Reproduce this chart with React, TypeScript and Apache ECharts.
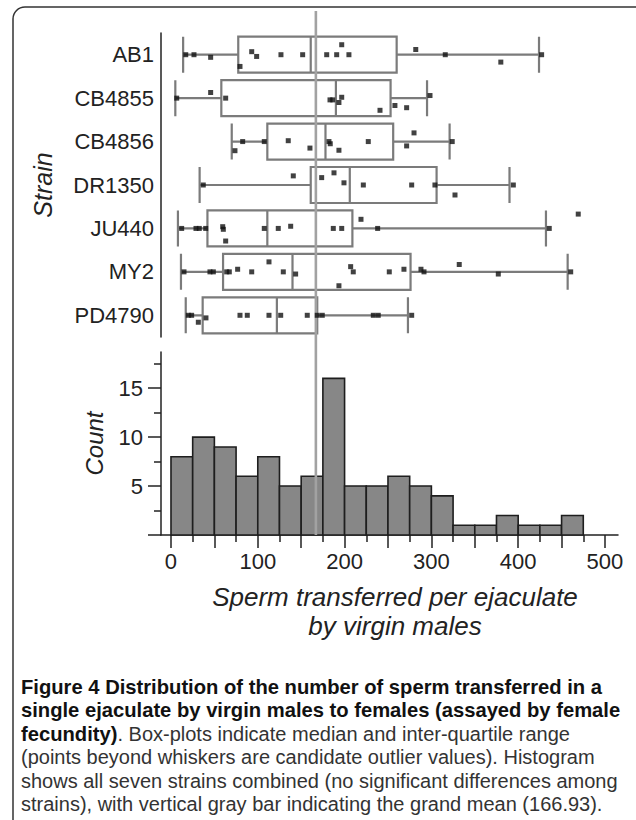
import React, { useEffect, useRef } from 'react';
import * as echarts from 'echarts';

// ---------- DATA ----------
const strains = ['AB1', 'CB4855', 'CB4856', 'DR1350', 'JU440', 'MY2', 'PD4790'];

// [lower whisker, Q1, median, Q3, upper whisker]
const ab1Box = [14, 77.5, 161, 260, 424];
const cb4855Box = [5, 58, 190, 253, 295];
const cb4856Box = [70, 111, 178, 256, 321];
const dr1350Box = [33, 161, 206, 306, 390];
const ju440Box = [8, 42, 111, 209, 432];
const my2Box = [11.5, 60, 140, 276, 457];
const pd4790Box = [17, 36.5, 122, 168.5, 273];

// individual observations: [sperm count, vertical jitter (fraction of a row)]
const ab1Points = [[17, 0], [26.5, 0], [45.7, 0.06], [79.5, 0.27], [93, -0.07], [98.7, 0.04], [126.7, 0], [151.7, 0], [179.4, 0], [190.9, 0], [196.7, -0.23], [205, 0], [282, -0.12], [316, 0], [380, 0.17], [427, 0]];
const cb4855Points = [[6.6, 0], [45.7, -0.13], [63, 0], [183.2, 0.04], [186.3, 0.04], [193.5, 0.1], [196.7, -0.02], [240.8, 0.28], [258, 0.17], [271.5, 0.22], [298.4, -0.06]];
const cb4856Points = [[73.7, 0.21], [82.6, 0], [107.5, 0], [135.1, -0.02], [160.1, 0.15], [182, 0], [183.5, 0.05], [193.5, 0.2], [227.3, 0], [271.5, 0.1], [280, -0.2], [324, 0]];
const dr1350Points = [[37.2, 0], [140.9, -0.21], [173.6, -0.17], [187.8, -0.28], [199.3, -0.05], [221.6, 0], [277.3, 0], [304.1, 0], [327.2, 0.23], [394.4, 0]];
const ju440Points = [[12.3, 0], [28.8, 0], [32.6, 0], [40, 0], [59.6, -0.04], [60.3, 0.02], [63, 0.29], [107.5, 0], [123.6, 0], [137.9, -0.05], [187, 0], [196.7, 0], [218.9, -0.21], [238.1, 0], [435.8, 0], [469.2, -0.33]];
const my2Points = [[15, 0], [44.9, 0], [48.8, 0], [64.2, 0], [67.2, 0], [76.8, -0.06], [93, 0], [112.9, -0.23], [129.4, 0], [143.6, 0.05], [193.5, 0.32], [207, -0.12], [210, 0], [251.5, 0], [268.4, -0.06], [288, -0.06], [291.5, 0], [332.1, -0.17], [377.1, 0.05], [460.5, 0]];
const pd4790Points = [[20, 0], [23.8, 0], [31.5, 0.16], [40.3, 0.06], [79.5, 0], [87.9, 0], [112.9, 0], [126.4, 0], [157, 0], [168.5, 0], [174.3, 0], [233.1, 0], [238.8, 0], [277.3, 0]];

// histogram (all strains combined)
const binWidth = 25;
const binStarts = [0, 25, 50, 75, 100, 125, 150, 175, 200, 225, 250, 275, 300, 325, 350, 375, 400, 425, 450];
const binCounts = [8, 10, 9, 6, 8, 5, 6, 16, 5, 5, 6, 5, 4, 1, 1, 2, 1, 1, 2];

const grandMean = 166.93;

const xMin = -11.5;
const xMax = 515;
const xMajorTicks = [0, 50, 100, 150, 200, 250, 300, 350, 400, 450, 500];
const xMinorTicks = [25, 75, 125, 175, 225, 275, 325, 375, 425, 475];
const xTickLabels = [0, 100, 200, 300, 400, 500];
const yMax = 18.7;
const yMajorTicks = [0, 5, 10, 15];
const yMinorTicks = [2.5, 7.5, 12.5, 17.5];
const yTickLabels = [5, 10, 15];

const xTitle = 'Sperm transferred per ejaculate\nby virgin males';
const captionLine1 = 'Figure 4 Distribution of the number of sperm transferred in a';
const captionLine2 = 'single ejaculate by virgin males to females (assayed by female';
const captionLine3Bold = 'fecundity)';
const captionLine3Rest = '. Box-plots indicate median and inter-quartile range';
const captionLine4 = '(points beyond whiskers are candidate outlier values). Histogram';
const captionLine5 = 'shows all seven strains combined (no significant differences among';
const captionLine6 = 'strains), with vertical gray bar indicating the grand mean (166.93).';

// ---------- CHART ----------
const AXIS_FONT = '"Liberation Sans", Arial, Helvetica, sans-serif';
const CAP_FONT = '"Liberation Sans", Arial, sans-serif';
const INK = '#222';

export default function App() {
  const ref = useRef<HTMLDivElement>(null);

  useEffect(() => {
    if (!ref.current) return;
    const chart = echarts.init(ref.current, null, { renderer: 'svg' });

    const boxes = [ab1Box, cb4855Box, cb4856Box, dr1350Box, ju440Box, my2Box, pd4790Box];
    const pointSets = [ab1Points, cb4855Points, cb4856Points, dr1350Points, ju440Points, my2Points, pd4790Points];
    const scatterData = pointSets.flatMap((pts, i) => pts.map(([v, j]) => [v, i + j]));
    const histData = binStarts.map((s, i) => [s, binCounts[i]]);

    const gridLeft = 161;
    const gridWidth = 457;

    const capY0 = 687;
    const capStep = 23.4;
    const capX = 21;
    const boldSize = 20.2;
    const regSize = 20;
    const capText = (text: string, idx: number, bold: boolean) => ({
      type: 'text',
      x: capX,
      y: capY0 + idx * capStep,
      style: {
        text,
        font: `${bold ? 'bold ' : ''}${bold ? boldSize : regSize}px ${CAP_FONT}`,
        fill: bold ? '#111' : '#333',
        textVerticalAlign: 'middle',
      },
    });

    chart.setOption({
      animation: false,
      backgroundColor: '#fff',
      grid: [
        { left: gridLeft, top: 33, width: gridWidth, height: 304 },
        { left: gridLeft, top: 352, width: gridWidth, height: 183 },
        { left: gridLeft, top: 11, width: gridWidth, height: 524 },
      ],
      xAxis: [
        { type: 'value', gridIndex: 0, min: xMin, max: xMax, show: false },
        {
          type: 'value', gridIndex: 1, min: xMin, max: xMax, position: 'bottom',
          axisLine: { show: true, onZero: false, lineStyle: { color: INK, width: 1.5 } },
          axisTick: { show: true, customValues: xMajorTicks, length: 13, lineStyle: { color: INK, width: 1.5 } },
          axisLabel: { show: true, customValues: xTickLabels, fontSize: 22, fontFamily: AXIS_FONT, color: INK, margin: 15 },
          splitLine: { show: false },
          name: xTitle,
          nameLocation: 'middle',
          nameGap: 47,
          nameTextStyle: { fontSize: 26, fontStyle: 'italic', fontFamily: AXIS_FONT, color: INK, lineHeight: 29, padding: [0, 0, 0, 11] },
        },
        {
          type: 'value', gridIndex: 1, min: xMin, max: xMax, position: 'bottom',
          axisLine: { show: false, onZero: false },
          axisTick: { show: true, customValues: xMinorTicks, length: 7, lineStyle: { color: INK, width: 1.5 } },
          axisLabel: { show: false },
          splitLine: { show: false },
        },
        { type: 'value', gridIndex: 2, min: xMin, max: xMax, show: false },
      ],
      yAxis: [
        {
          type: 'category', gridIndex: 0, data: strains, inverse: true, position: 'left',
          axisLine: { show: true, onZero: false, lineStyle: { color: INK, width: 1.5 } },
          axisTick: { show: false },
          axisLabel: { fontSize: 22, fontFamily: AXIS_FONT, color: INK, margin: 7 },
          name: 'Strain',
          nameLocation: 'middle',
          nameRotate: 90,
          nameGap: 106,
          nameTextStyle: { fontSize: 25, fontStyle: 'italic', fontFamily: AXIS_FONT, color: INK },
        },
        { type: 'value', gridIndex: 0, min: -0.5, max: 6.5, inverse: true, show: false },
        {
          type: 'value', gridIndex: 1, min: 0, max: yMax, position: 'left',
          axisLine: { show: true, onZero: false, lineStyle: { color: INK, width: 1.5 } },
          axisTick: { show: true, customValues: yMajorTicks, length: 13, lineStyle: { color: INK, width: 1.5 } },
          axisLabel: { show: true, customValues: yTickLabels, fontSize: 22, fontFamily: AXIS_FONT, color: INK, margin: 18 },
          splitLine: { show: false },
          name: 'Count',
          nameLocation: 'middle',
          nameRotate: 90,
          nameGap: 55,
          nameTextStyle: { fontSize: 24, fontStyle: 'italic', fontFamily: AXIS_FONT, color: INK },
        },
        {
          type: 'value', gridIndex: 1, min: 0, max: yMax, position: 'left',
          axisLine: { show: false, onZero: false },
          axisTick: { show: true, customValues: yMinorTicks, length: 7, lineStyle: { color: INK, width: 1.5 } },
          axisLabel: { show: false },
          splitLine: { show: false },
        },
        { type: 'value', gridIndex: 2, min: 0, max: 1, show: false },
      ],
      series: [
        {
          type: 'boxplot',
          xAxisIndex: 0,
          yAxisIndex: 0,
          data: boxes,
          boxWidth: [36, 36],
          itemStyle: { color: '#fff', borderColor: '#7b7b7b', borderWidth: 2.2 },
          z: 2,
          silent: true,
        },
        {
          type: 'line',
          xAxisIndex: 3,
          yAxisIndex: 4,
          data: [[grandMean, 0], [grandMean, 1]],
          symbol: 'none',
          lineStyle: { color: '#a2a2a2', width: 2.6 },
          z: 5,
          silent: true,
        },
        {
          type: 'scatter',
          xAxisIndex: 0,
          yAxisIndex: 1,
          data: scatterData,
          symbol: 'rect',
          symbolSize: 5,
          itemStyle: { color: '#111' },
          z: 6,
          silent: true,
        },
        {
          type: 'custom',
          xAxisIndex: 1,
          yAxisIndex: 2,
          data: histData,
          encode: { x: 0, y: 1 },
          z: 3,
          silent: true,
          renderItem: (params: any, api: any) => {
            const s = api.value(0);
            const c = api.value(1);
            const p0 = api.coord([s, c]);
            const p1 = api.coord([s + binWidth, 0]);
            return {
              type: 'rect',
              shape: { x: p0[0], y: p0[1], width: p1[0] - p0[0], height: p1[1] - p0[1] },
              style: { fill: '#878787', stroke: '#1e1e1e', lineWidth: 1.6 },
            };
          },
        },
      ],
      graphic: [
        {
          type: 'rect',
          shape: { x: 13, y: 7, width: 660, height: 840, r: 12 },
          style: { fill: 'none', stroke: '#333', lineWidth: 1.5 },
          silent: true,
          z: 0,
        },
        capText(captionLine1, 0, true),
        capText(captionLine2, 1, true),
        {
          type: 'text',
          x: capX,
          y: capY0 + 2 * capStep,
          style: {
            text: `{b|${captionLine3Bold}}{r|${captionLine3Rest}}`,
            textVerticalAlign: 'middle',
            rich: {
              b: { font: `bold ${boldSize}px ${CAP_FONT}`, fontWeight: 'bold', fontSize: boldSize, fontFamily: CAP_FONT, fill: '#111' },
              r: { font: `${regSize}px ${CAP_FONT}`, fontSize: regSize, fontFamily: CAP_FONT, fill: '#333' },
            },
          },
        },
        capText(captionLine4, 3, false),
        capText(captionLine5, 4, false),
        capText(captionLine6, 5, false),
      ],
    });

    return () => chart.dispose();
  }, []);

  return <div ref={ref} style={{ position: 'absolute', left: 0, top: 0, width: 636, height: 820 }} />;
}
